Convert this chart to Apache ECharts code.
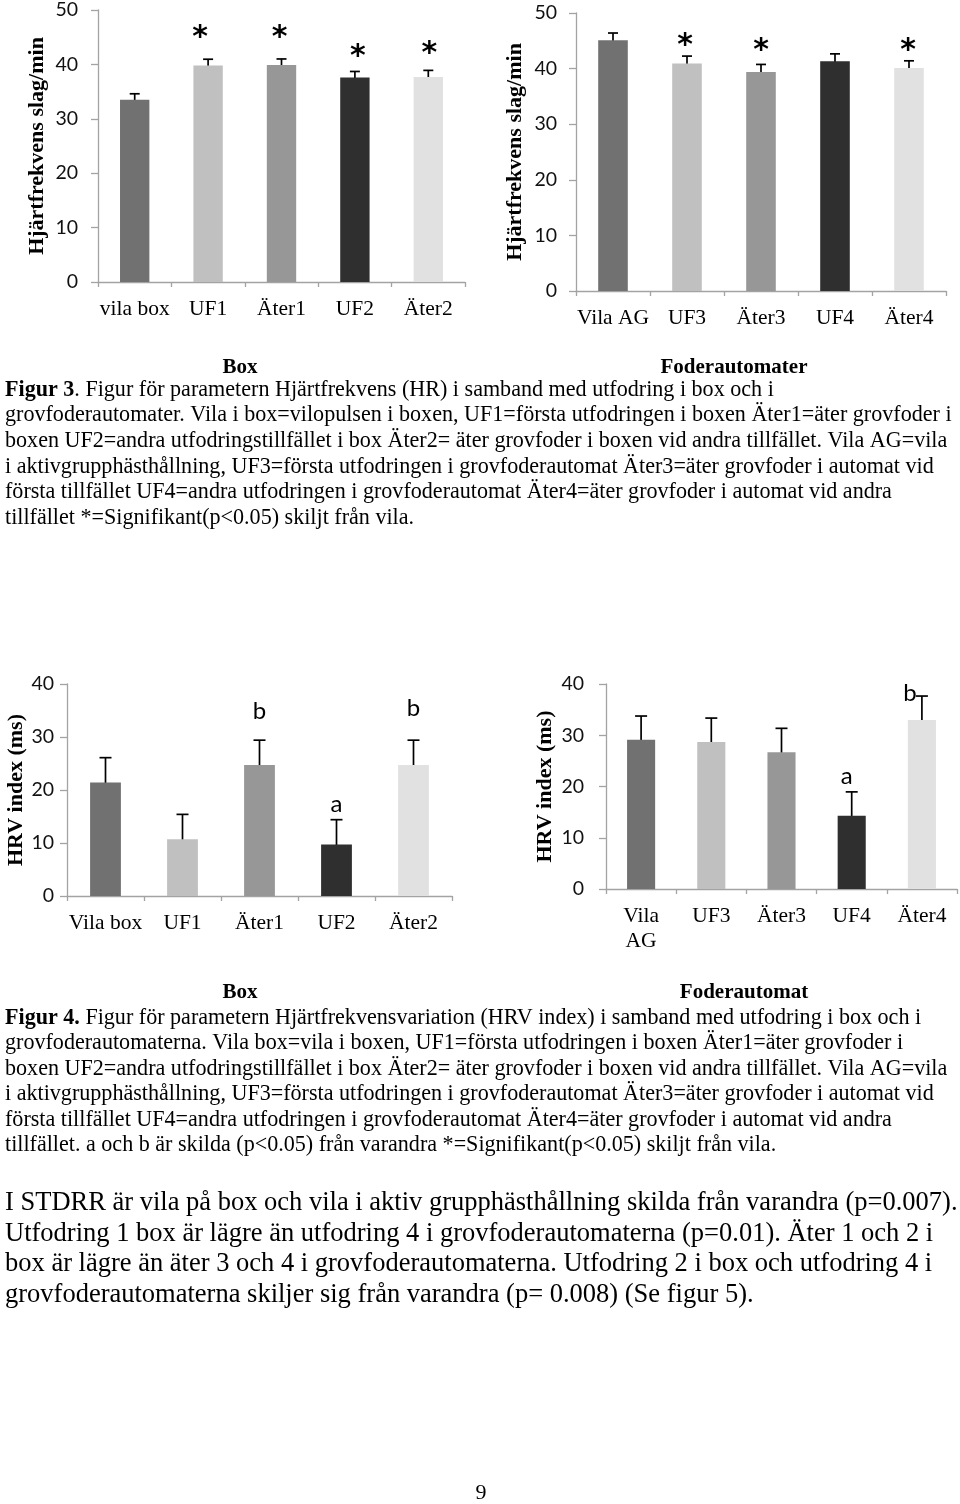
<!DOCTYPE html>
<html>
<head>
<meta charset="utf-8">
<script src="https://cdn.jsdelivr.net/npm/echarts@6/dist/echarts.min.js"></script>
<style>
html,body{margin:0;padding:0;background:#fff;}
#c{width:960px;height:1504px;}
</style>
</head>
<body>
<div id="c"></div>
<script>
// ---------- data ----------
const hrBoxCats = ['vila box', 'UF1', 'Äter1', 'UF2', 'Äter2'];
const hrBoxVals = [33.5, 39.8, 39.9, 37.6, 37.7];
const hrBoxErr  = [1.1, 1.15, 1.1, 1.1, 1.2];
const hrBoxSig  = ['', '*', '*', '*', '*'];
const hrBoxSigY = [null, 45.7, 45.7, 42.2, 42.8];

const hrAgCats = ['Vila AG', 'UF3', 'Äter3', 'UF4', 'Äter4'];
const hrAgVals = [45.1, 40.9, 39.4, 41.3, 40.1];
const hrAgErr  = [1.3, 1.35, 1.35, 1.35, 1.3];
const hrAgSig  = ['', '*', '*', '', '*'];
const hrAgSigY = [null, 44.9, 44.0, null, 44.0];

const hrvBoxCats = ['Vila box', 'UF1', 'Äter1', 'UF2', 'Äter2'];
const hrvBoxVals = [21.4, 10.7, 24.7, 9.7, 24.7];
const hrvBoxErr  = [4.7, 4.7, 4.7, 4.7, 4.7];
const hrvBoxSig  = ['', '', 'b', 'a', 'b'];
const hrvBoxSigY = [null, null, 34.8, 17.4, 35.4];

const hrvAgCats = ['Vila\nAG', 'UF3', 'Äter3', 'UF4', 'Äter4'];
const hrvAgVals = [29.1, 28.7, 26.7, 14.3, 33.0];
const hrvAgErr  = [4.65, 4.65, 4.65, 4.65, 4.65];
const hrvAgSig  = ['', '', '', 'a', 'b'];
const hrvAgSigY = [null, null, null, 21.9, 38.2];

const hrTicksMax = 50, hrvTicksMax = 40, tickStep = 10;

// ---------- styles ----------
const barColors = ['#717171', '#c0c0c0', '#979797', '#2f2f2f', '#e1e1e1'];
const SERIF = '"Liberation Serif", "Times New Roman", serif';
const SANS = 'Lato, "Open Sans", sans-serif';
const STAR = '"DejaVu Sans", sans-serif';
const axisGray = '#a3a3a3';

const panels = [
  {cats: hrBoxCats, vals: hrBoxVals, err: hrBoxErr, sig: hrBoxSig, sigY: hrBoxSigY, max: hrTicksMax, sigDx: [0, -8, -2, 3, 1],
   grid: {left: 98, top: 8, width: 367, height: 274}, nameGap: 50, labMargin: 20, cap: 10, sigSize: 30},
  {cats: hrAgCats, vals: hrAgVals, err: hrAgErr, sig: hrAgSig, sigY: hrAgSigY, max: hrTicksMax, sigDx: [0, -2, 0, 0, -1],
   grid: {left: 576, top: 13, width: 370, height: 278}, nameGap: 50, labMargin: 19, cap: 10, sigSize: 30},
  {cats: hrvBoxCats, vals: hrvBoxVals, err: hrvBoxErr, sig: hrvBoxSig, sigY: hrvBoxSigY, max: hrvTicksMax, sigDx: [0, 0, 0, 0, 0],
   grid: {left: 67, top: 684, width: 385, height: 212}, nameGap: 34, labMargin: 13, cap: 12, sigSize: 24},
  {cats: hrvAgCats, vals: hrvAgVals, err: hrvAgErr, sig: hrvAgSig, sigY: hrvAgSigY, max: hrvTicksMax, sigDx: [0, 0, 0, -5, -12],
   grid: {left: 606, top: 684, width: 351, height: 205}, nameGap: 50, labMargin: 22, cap: 12, sigSize: 24}
];
const yNames = ['Hjärtfrekvens slag/min', 'Hjärtfrekvens slag/min', 'HRV index (ms)', 'HRV index (ms)'];

const grids = [], xAxes = [], yAxes = [], series = [];
panels.forEach((p, k) => {
  grids.push(Object.assign({containLabel: false}, p.grid));
  xAxes.push({
    type: 'category', gridIndex: k, data: p.cats, boundaryGap: true,
    axisLine: {show: true, lineStyle: {color: axisGray, width: 1.3}},
    axisTick: {show: true, length: 5, inside: false, lineStyle: {color: axisGray, width: 1.3}},
    axisLabel: {color: '#000', fontFamily: SERIF, fontSize: 21.5, margin: 15, lineHeight: 25, interval: 0},
    splitLine: {show: false}
  });
  yAxes.push({
    type: 'value', gridIndex: k, min: 0, max: p.max, interval: tickStep,
    axisLine: {show: true, lineStyle: {color: axisGray, width: 1.3}},
    axisTick: {show: true, length: 7, lineStyle: {color: axisGray, width: 1.3}},
    axisLabel: {color: '#111', fontFamily: SANS, fontSize: 19.5, margin: p.labMargin},
    splitLine: {show: false},
    name: yNames[k], nameLocation: 'middle', nameRotate: 90, nameGap: p.nameGap,
    nameTextStyle: {color: '#000', fontFamily: SERIF, fontWeight: 'bold', fontSize: 22}
  });
  series.push({
    type: 'bar', xAxisIndex: k, yAxisIndex: k, barWidth: '40%',
    data: p.vals.map((v, i) => ({value: v, itemStyle: {color: barColors[i]}})),
    silent: true, animation: false
  });
  series.push({
    type: 'custom', xAxisIndex: k, yAxisIndex: k, animation: false, silent: true,
    data: p.vals.map((v, i) => [i, v - p.err[i], v + p.err[i]]),
    renderItem: (params, api) => {
      const lo = api.coord([api.value(0), api.value(1)]);
      const hi = api.coord([api.value(0), api.value(2)]);
      const h = p.cap / 2;
      const st = {stroke: '#000', lineWidth: 1.7};
      return {type: 'group', children: [
        {type: 'line', shape: {x1: hi[0], y1: hi[1], x2: lo[0], y2: lo[1]}, style: st},
        {type: 'line', shape: {x1: hi[0] - h, y1: hi[1], x2: hi[0] + h, y2: hi[1]}, style: st},
        {type: 'line', shape: {x1: lo[0] - h, y1: lo[1], x2: lo[0] + h, y2: lo[1]}, style: st}
      ]};
    }
  });
  series.push({
    type: 'custom', xAxisIndex: k, yAxisIndex: k, animation: false, silent: true,
    data: p.sigY.map((y, i) => [i, y === null ? 0 : y, p.sig[i]]).filter(d => d[2] !== ''),
    renderItem: (params, api) => {
      const i = api.value(0);
      const pt = api.coord([i, api.value(1)]);
      const txt = p.sig[i];
      const isStar = txt === '*';
      return {type: 'text', x: pt[0] + p.sigDx[i], y: pt[1] + (isStar ? 5 : 0), style: {
        text: txt, fill: '#000', align: 'center', verticalAlign: 'middle',
        fontFamily: isStar ? STAR : SANS, fontSize: p.sigSize, fontWeight: isStar ? 'bold' : 'normal'
      }};
    }
  });
});

// ---------- page text ----------
const fig3Lines = [
  '{b|Figur 3}. Figur för parametern Hjärtfrekvens (HR) i samband med utfodring i box och i',
  'grovfoderautomater. Vila i box=vilopulsen i boxen, UF1=första utfodringen i boxen Äter1=äter grovfoder i',
  'boxen UF2=andra utfodringstillfället i box Äter2= äter grovfoder i boxen vid andra tillfället. Vila AG=vila',
  'i aktivgrupphästhållning, UF3=första utfodringen i grovfoderautomat Äter3=äter grovfoder i automat vid',
  'första tillfället UF4=andra utfodringen i grovfoderautomat Äter4=äter grovfoder i automat vid andra',
  'tillfället *=Signifikant(p<0.05) skiljt från vila.'
];
const fig4Lines = [
  '{b|Figur 4.} Figur för parametern Hjärtfrekvensvariation (HRV index) i samband med utfodring i box och i',
  'grovfoderautomaterna. Vila box=vila i boxen, UF1=första utfodringen i boxen Äter1=äter grovfoder i',
  'boxen UF2=andra utfodringstillfället i box Äter2= äter grovfoder i boxen vid andra tillfället. Vila AG=vila',
  'i aktivgrupphästhållning, UF3=första utfodringen i grovfoderautomat Äter3=äter grovfoder i automat vid',
  'första tillfället UF4=andra utfodringen i grovfoderautomat Äter4=äter grovfoder i automat vid andra',
  'tillfället. a och b är skilda (p<0.05) från varandra *=Signifikant(p<0.05) skiljt från vila.'
];
const bodyLines = [
  'I STDRR är vila på box och vila i aktiv grupphästhållning skilda från varandra (p=0.007).',
  'Utfodring 1 box är lägre än utfodring 4 i grovfoderautomaterna (p=0.01). Äter 1 och 2 i',
  'box är lägre än äter 3 och 4 i grovfoderautomaterna. Utfodring 2 i box och utfodring 4 i',
  'grovfoderautomaterna skiljer sig från varandra (p= 0.008) (Se figur 5).'
];
const groupLabels1 = ['Box', 'Foderautomater'];
const groupLabels2 = ['Box', 'Foderautomat'];
const pageNumber = '9';

const graphic = [];
function textEl(x, y, text, size, opts) {
  graphic.push({type: 'text', x: x, y: y, silent: true, style: Object.assign({
    text: text, fill: '#000', fontFamily: SERIF, fontSize: size, verticalAlign: 'middle', align: 'left',
    rich: {b: {fontWeight: 'bold', fontFamily: SERIF, fontSize: size, fill: '#000'}}
  }, opts || {})});
}
textEl(240, 368, groupLabels1[0], 21, {align: 'center', fontWeight: 'bold'});
textEl(734, 368, groupLabels1[1], 21, {align: 'center', fontWeight: 'bold'});
fig3Lines.forEach((t, i) => textEl(5, 390 + i * 25.6, t, 22.1));
textEl(240, 993, groupLabels2[0], 21, {align: 'center', fontWeight: 'bold'});
textEl(744, 993, groupLabels2[1], 21, {align: 'center', fontWeight: 'bold'});
fig4Lines.forEach((t, i) => textEl(5, 1018 + i * 25.5, t, 22.1));
bodyLines.forEach((t, i) => textEl(5, 1203 + i * 30.6, t, 26.5));
textEl(481, 1493, pageNumber, 22, {align: 'center'});

const chart = echarts.init(document.getElementById('c'), null, {renderer: 'canvas'});
chart.setOption({
  backgroundColor: '#fff',
  animation: false,
  grid: grids, xAxis: xAxes, yAxis: yAxes, series: series, graphic: graphic
});
</script>
</body>
</html>
